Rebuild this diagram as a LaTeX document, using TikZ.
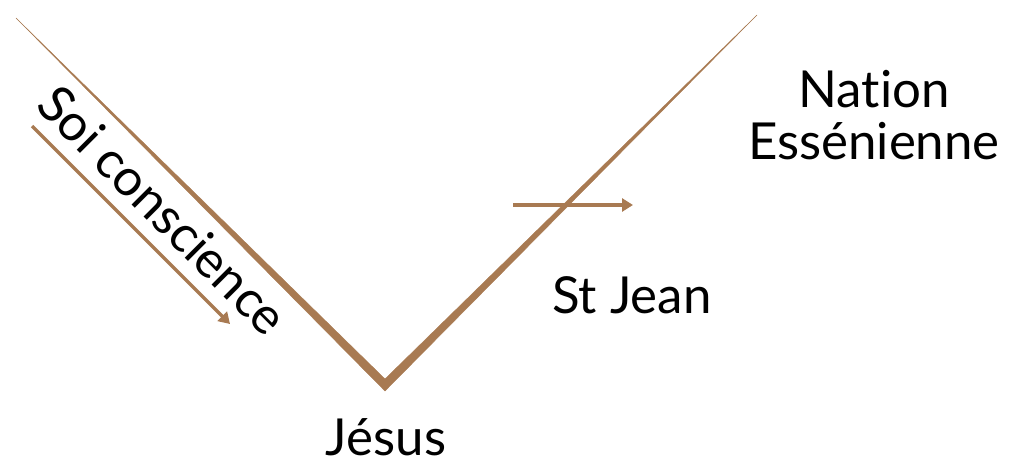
\documentclass[tikz,border=0pt]{standalone}
\usepackage{fontspec}
\setmainfont{Lato}[Ligatures=NoCommon]
\usepackage{tikz}
\usetikzlibrary{arrows.meta,positioning}
\definecolor{bronze}{RGB}{168,122,82}

\begin{document}
\begin{tikzpicture}[
  x=1pt, y=-1pt,
  label/.style={font=\fontsize{51}{52}\selectfont, text=black, inner sep=0pt, align=center},
  arrow/.style={bronze, line width=3.5pt, -{Triangle[length=11pt,width=13pt]}},
  vee/.style={fill=bronze, draw=bronze, line width=0.4pt, line join=round}
]
\useasboundingbox (0,0) rectangle (1010,463);

% tapered V
\filldraw[vee] (16,18) -- (385,391) -- (757,15) -- (385,379) -- cycle;

% free ends of the arrows
\coordinate (l0) at (32,126);
\coordinate (l1) at (230,324);
\coordinate (r0) at (513,205);
\coordinate (r1) at (633,205);

\draw[arrow] (l0) -- (l1);
\draw[arrow] (r0) -- (r1);

\node[label, rotate=-45] (soi) at (163,210) {Soi conscience};
\node[label, anchor=base] (jesus) at (386,455) {Jésus};
\node[label, anchor=base] (jean) at (632,313) {St Jean};
\node[label] (nation) at (874,115) {Nation\\Essénienne};
\end{tikzpicture}
\end{document}
